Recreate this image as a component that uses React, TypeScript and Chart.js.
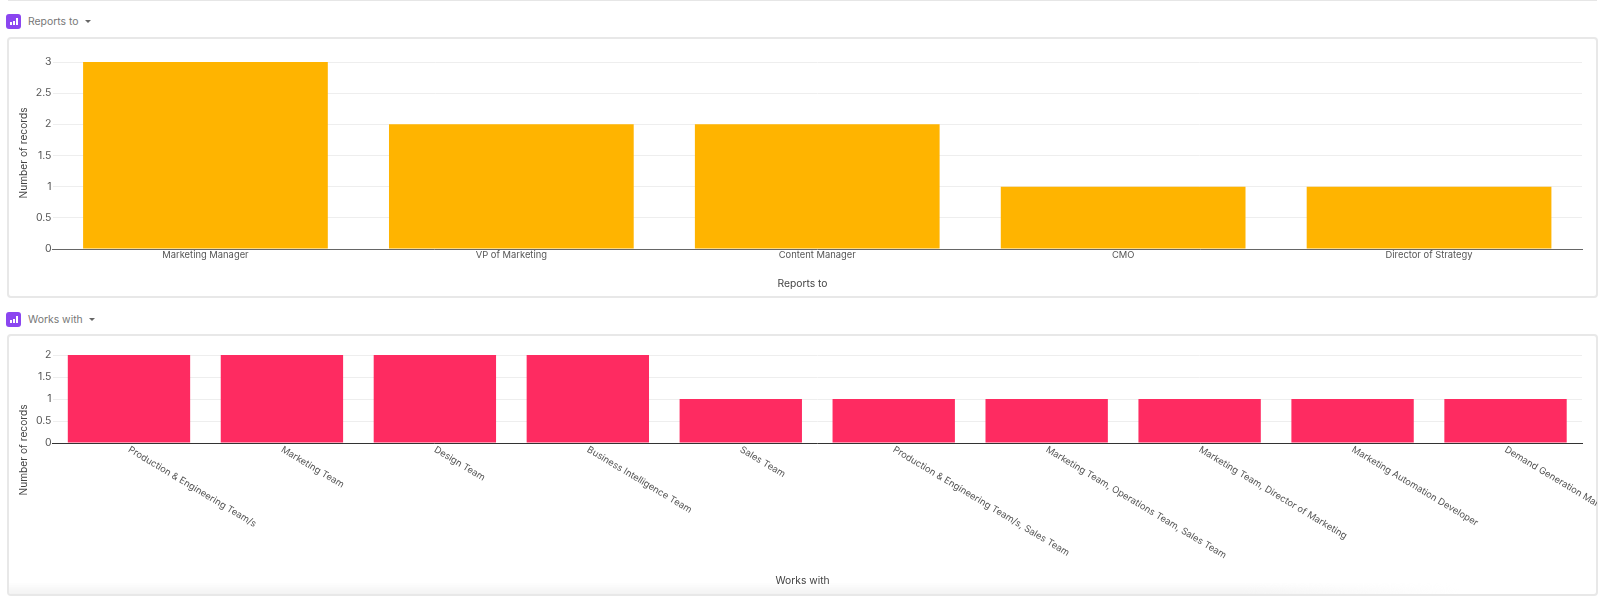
import React, { useEffect, useRef } from "react";
import { Chart, registerables } from "chart.js";

Chart.register(...registerables);

const reportsCategories = ["Marketing Manager", "VP of Marketing", "Content Manager", "CMO", "Director of Strategy"];
const reportsValues = [3, 2, 2, 1, 1];
const worksCategories = [
  "Production & Engineering Team/s",
  "Marketing Team",
  "Design Team",
  "Business Intelligence Team",
  "Sales Team",
  "Production & Engineering Team/s, Sales Team",
  "Marketing Team, Operations Team, Sales Team",
  "Marketing Team, Director of Marketing",
  "Marketing Automation Developer",
  "Demand Generation Manager",
];
const worksValues = [2, 2, 2, 2, 1, 1, 1, 1, 1, 1];

const FONT = "Inter, 'Liberation Sans', sans-serif";

// Left-aligns rotated tick labels so that they start at their tick.
const startAlignedTicks = {
  id: "startAlignedTicks",
  beforeDraw(chart: any) {
    if (chart.scales.x.labelRotation) {
      chart.scales.x.getLabelItems().forEach((item: any) => {
        item.options.textAlign = "left";
      });
    }
  },
};

// The titles are centred on the card rather than on the plot area.
function shiftTitle(scale: any, box: any) {
  if (scale.__shifted) return;
  scale.__shifted = true;
  const draw = scale.drawTitle;
  scale.drawTitle = function () {
    const saved = { left: this.left, right: this.right, top: this.top, bottom: this.bottom };
    Object.assign(this, box);
    draw.call(this);
    Object.assign(this, saved);
  };
}

interface PanelProps {
  name: string;
  categories: string[];
  values: number[];
  color: string;
  top: number;
  height: number;
  headerTop: number;
  plotTop: number;
  xAxisHeight: number;
  yMax: number;
  rotation: number;
  baseline: string;
  yTitleCenter: number;
  xTitleBottomPad: number;
  fade: boolean;
}

function Panel(p: PanelProps) {
  const ref = useRef<HTMLCanvasElement>(null);
  useEffect(() => {
    const chart = new Chart(ref.current!, {
      type: "bar",
      data: {
        labels: p.categories,
        datasets: [{ data: p.values, backgroundColor: p.color, categoryPercentage: 0.8, barPercentage: 1 }],
      },
      plugins: [startAlignedTicks],
      options: {
        animation: false,
        responsive: false,
        layout: { padding: { top: p.plotTop, right: 15, left: 0, bottom: 0 } },
        plugins: { legend: { display: false }, title: { display: false }, tooltip: { enabled: false } },
        scales: {
          x: {
            grid: { display: false, drawTicks: false },
            border: { display: true, color: p.baseline, width: 1 },
            afterFit(s: any) {
              s.height = p.xAxisHeight;
              s.paddingLeft = 0;
              s.paddingRight = 0;
              shiftTitle(s, { left: 0, right: 1589 });
            },
            ticks: {
              autoSkip: false,
              minRotation: p.rotation,
              maxRotation: p.rotation,
              padding: 1,
              color: "#555",
              font: { family: FONT, size: 9.4 },
            },
            title: {
              display: true,
              text: p.name,
              color: "#444",
              font: { family: FONT, size: 10.3 },
              padding: { top: 0, bottom: p.xTitleBottomPad },
            },
          },
          y: {
            beginAtZero: true,
            max: p.yMax,
            grid: { color: "#eeeeee", drawTicks: false, lineWidth: 1 },
            border: { display: false },
            afterFit(s: any) {
              s.width = 44.5;
              shiftTitle(s, { top: p.yTitleCenter - 100, bottom: p.yTitleCenter + 100 });
            },
            ticks: {
              stepSize: 0.5,
              padding: 1,
              color: "#555",
              font: { family: FONT, size: 10.5 },
              callback: (v: any) => String(v),
            },
            title: {
              display: true,
              text: "Number of records",
              color: "#444",
              font: { family: FONT, size: 10.2 },
              padding: { top: 10, bottom: 0 },
            },
          },
        },
      },
    } as any);
    return () => chart.destroy();
  }, []);

  return (
    <>
      <div
        style={{
          position: "absolute", left: 6, top: p.headerTop, width: 15, height: 15, borderRadius: 3,
          background: "#8B46F0", display: "flex", alignItems: "flex-end", justifyContent: "center",
          gap: 1, paddingBottom: 4, boxSizing: "border-box",
        }}
      >
        <span style={{ width: 2, height: 3, background: "#fff" }} />
        <span style={{ width: 2, height: 4, background: "#fff" }} />
        <span style={{ width: 2, height: 7, background: "#fff" }} />
      </div>
      <div
        style={{
          position: "absolute", left: 28, top: p.headerTop - 1, height: 16, lineHeight: "16px",
          font: `10.4px ${FONT}`, color: "#777", whiteSpace: "nowrap",
          display: "flex", alignItems: "center", gap: 6,
        }}
      >
        <span>{p.name}</span>
        <span
          style={{
            width: 0, height: 0, borderLeft: "3px solid transparent", borderRight: "3px solid transparent",
            borderTop: "3.5px solid #666",
          }}
        />
      </div>
      <div
        style={{
          position: "absolute", left: 7, top: p.top, width: 1591, height: p.height, boxSizing: "border-box",
          border: "2px solid #e8e8e8", borderRadius: 4, background: "#fff", overflow: "hidden",
        }}
      >
        {p.fade && (
          <div
            style={{
              position: "absolute", left: 0, bottom: 0, width: 1450, height: 12,
              background: "linear-gradient(to bottom, rgba(240,240,240,0), rgba(240,240,240,0.8))",
              WebkitMaskImage: "linear-gradient(to right, #000 85%, transparent)",
              maskImage: "linear-gradient(to right, #000 85%, transparent)",
            }}
          />
        )}
      </div>
      <canvas
        ref={ref}
        width={1589}
        height={p.height}
        style={{ position: "absolute", left: 8, top: p.top, width: 1589, height: p.height, display: "block" }}
      />
    </>
  );
}

export default function App() {
  return (
    <div style={{ position: "absolute", left: 0, top: 0, width: 1600, height: 599, background: "#fff", overflow: "hidden" }}>
      <div style={{ position: "absolute", left: 8, top: 0, width: 1589, height: 1, background: "#e6e6e6" }} />
      <Panel
        name="Reports to" categories={reportsCategories} values={reportsValues} color="#FFB400"
        top={37} height={261} headerTop={14} plotTop={25} xAxisHeight={49} yMax={3} rotation={0} baseline="#666666"
        yTitleCenter={116} xTitleBottomPad={8} fade={false}
      />
      <Panel
        name="Works with" categories={worksCategories} values={worksValues} color="#FE2B61"
        top={334} height={262} headerTop={312} plotTop={21} xAxisHeight={153} yMax={2} rotation={-31} baseline="#333333"
        yTitleCenter={116} xTitleBottomPad={9} fade={true}
      />
    </div>
  );
}
